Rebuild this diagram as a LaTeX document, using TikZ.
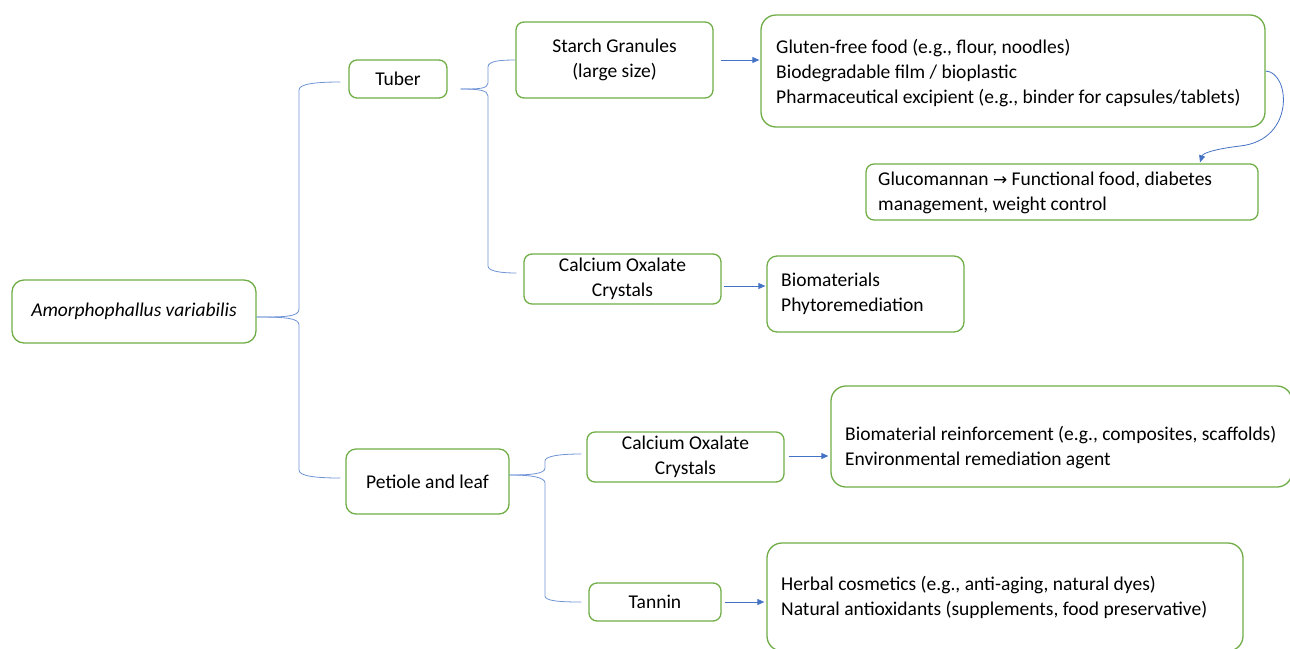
\documentclass[tikz,border=0pt]{standalone}
\usepackage{fontspec}
\setmainfont{Carlito}
\newfontfamily\arrowfont{DejaVu Sans}
\usetikzlibrary{arrows.meta,calc}
\definecolor{bgreen}{HTML}{70AD47}
\definecolor{lblue}{HTML}{4472C4}
\definecolor{cblue}{HTML}{6F94D6}
\begin{document}
\begin{tikzpicture}[x=1pt,y=-1pt,
  box/.style={draw=bgreen,line width=1.3pt,rounded corners=8pt,inner sep=0pt,align=center,
    font=\fontsize{19.5}{25}\selectfont},
  bigbox/.style={box,rounded corners=15pt},
  txt/.style={anchor=west,inner sep=0pt,align=left,font=\fontsize{19.5}{25}\selectfont},
  conn/.style={draw=cblue,line width=0.8pt},
  arr/.style={draw=lblue,line width=0.8pt,-{Triangle[length=7pt,width=6pt]}}]
\useasboundingbox (0,0) rectangle (1290,648);
% boxes
\node[box,rounded corners=12pt,minimum width=244pt,minimum height=63pt] (root) at (134,311.5) {\itshape Amorphophallus variabilis};
\node[box,minimum width=98pt,minimum height=38pt] (tuber) at (398,79) {Tuber};
\node[box,minimum width=197pt,minimum height=76pt] (starch) at (614.5,60) {Starch Granules\\(large size)};
\node[bigbox,minimum width=504pt,minimum height=112pt] (gluten) at (1013,71) {};
\node[box,minimum width=392pt,minimum height=56pt] (gluco) at (1062,192) {};
\node[box,minimum width=197pt,minimum height=50pt] (cao1) at (622.5,279) {Calcium Oxalate\\Crystals};
\node[box,rounded corners=10pt,minimum width=197pt,minimum height=76pt] (bio) at (865.5,294) {};
\node[box,rounded corners=10pt,minimum width=163pt,minimum height=65pt] (petiole) at (427.5,481.5) {Petiole and leaf};
\node[box,minimum width=197pt,minimum height=50pt] (cao2) at (685.5,457) {Calcium Oxalate\\Crystals};
\node[bigbox,minimum width=461pt,minimum height=101pt] (reinf) at (1061.5,436.5) {};
\node[box,minimum width=132pt,minimum height=38pt] (tannin) at (655,602) {Tannin};
\node[bigbox,minimum width=476pt,minimum height=108pt] (herbal) at (1005,597) {};
% texts
\node[txt] (glutenT) at (776,73) {Gluten-free food (e.g., flour, noodles)\\Biodegradable film / bioplastic\\Pharmaceutical excipient (e.g., binder for capsules/tablets)};
\node[txt] (glucoT) at (878,192.5) {Glucomannan {\arrowfont\fontsize{17}{25}\selectfont →} Functional food, diabetes\\management, weight control};
\node[txt] (bioT) at (781,293.5) {Biomaterials\\Phytoremediation};
\node[txt] (reinfT) at (845,448) {Biomaterial reinforcement (e.g., composites, scaffolds)\\Environmental remediation agent};
\node[txt] (herbalT) at (781,597.5) {Herbal cosmetics (e.g., anti-aging, natural dyes)\\Natural antioxidants (supplements, food preservative)};
% brace connectors
\coordinate (rs) at ([yshift=-5.5pt]root.east);
\draw[conn] (rs) .. controls (285,317) and (299,317) .. (299,309) -- (299,90)
  .. controls (299,84) and (315,82) .. ([xshift=-8pt,yshift=-3pt]tuber.west);
\draw[conn] (rs) .. controls (285,317) and (299,318) .. (299,325) -- (299,470)
  .. controls (299,476) and (315,478) .. ([xshift=-5pt,yshift=3.5pt]petiole.west);
\coordinate (ts) at ([xshift=13pt,yshift=-10pt]tuber.east);
\draw[conn] (ts) .. controls (478,89) and (488,89) .. (488,83) -- (488,67)
  .. controls (488,61) and (500,60) .. (starch.west);
\draw[conn] (ts) .. controls (478,89) and (488,90) .. (488,96) -- (488,266)
  .. controls (488,271) and (500,273) .. ([xshift=-7pt,yshift=6pt]cao1.west);
\coordinate (ps) at ([yshift=6.5pt]petiole.east);
\draw[conn] (ps) .. controls (530,475) and (545,474) .. (545,468) -- (545,461)
  .. controls (545,456) and (560,454) .. ([xshift=-5pt,yshift=3pt]cao2.west);
\draw[conn] (ps) .. controls (530,475) and (545,477) .. (545,483) -- (545,596)
  .. controls (545,601) and (560,602) .. ([xshift=-7pt]tannin.west);
% arrows
\coordinate (a1) at ([xshift=7pt]starch.east);
\draw[arr] (a1) -- ([xshift=-1pt]a1 -| gluten.west);
\coordinate (a2) at ([xshift=2pt,yshift=-7pt]cao1.east);
\draw[arr] (a2) -- ([xshift=-1pt]a2 -| bio.west);
\coordinate (a3) at ([xshift=4pt,yshift=1pt]cao2.east);
\draw[arr] (a3) -- ([xshift=-2pt]a3 -| reinf.west);
\coordinate (a4) at ([xshift=3pt]tannin.east);
\draw[arr] (a4) -- ([xshift=-2pt]a4 -| herbal.west);
\draw[arr] (gluten.east) .. controls (1290,72) and (1296,140) .. (1240,146)
  .. controls (1215,149) and (1203,153) .. ([xshift=138pt,yshift=1pt]gluco.north);
\end{tikzpicture}
\end{document}
